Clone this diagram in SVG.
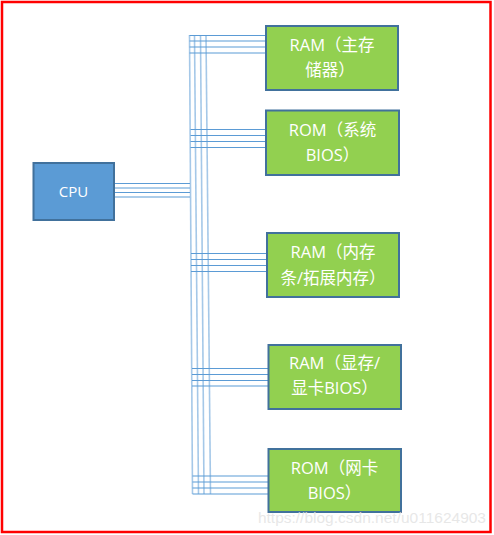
<svg xmlns="http://www.w3.org/2000/svg" width="494" height="535" viewBox="0 0 494 535">
<style>
.box{fill:#92d050;stroke:#41719c;stroke-width:2}
.cpu{fill:#5b9bd5;stroke:#41719c;stroke-width:2}
.t{fill:#ffffff;font-family:"Open Sans","Noto Sans CJK SC",sans-serif;font-size:16.5px;text-anchor:middle}
.c{fill:#ffffff;font-family:"Open Sans","Noto Sans CJK SC",sans-serif;font-size:15px;text-anchor:middle}
.h{stroke:#5b9bd5;stroke-width:1.2;fill:none}
.v{stroke:#5b9bd5;stroke-width:1.6;stroke-opacity:0.55;fill:none}
</style>
<rect x="2" y="2" width="488.5" height="530" fill="#ffffff" stroke="#ff0000" stroke-width="2.5"/>
<g id="connectors">
<line class="v" x1="189.5" y1="35" x2="192.5" y2="494"/>
<line class="v" x1="194.5" y1="35" x2="198.5" y2="494"/>
<line class="v" x1="200.5" y1="35" x2="204" y2="494"/>
<line class="v" x1="206" y1="35" x2="210.5" y2="494"/>
<line class="h" x1="189.5" y1="35.5" x2="266" y2="35.5"/>
<line class="h" x1="189.5" y1="41" x2="266" y2="41"/>
<line class="h" x1="189.5" y1="47" x2="266" y2="47"/>
<line class="h" x1="189.5" y1="53" x2="266" y2="53"/>
<line class="h" x1="190.5" y1="129.5" x2="266" y2="129.5"/>
<line class="h" x1="190.5" y1="135.5" x2="266" y2="135.5"/>
<line class="h" x1="190.5" y1="141.5" x2="266" y2="141.5"/>
<line class="h" x1="190.5" y1="147.5" x2="266" y2="147.5"/>
<line class="h" x1="114" y1="183.5" x2="190" y2="183.5"/>
<line class="h" x1="114" y1="188" x2="190" y2="188"/>
<line class="h" x1="114" y1="192.5" x2="190" y2="192.5"/>
<line class="h" x1="114" y1="197" x2="190" y2="197"/>
<line class="h" x1="191" y1="253.5" x2="267" y2="253.5"/>
<line class="h" x1="191" y1="259.5" x2="267" y2="259.5"/>
<line class="h" x1="191" y1="265.5" x2="267" y2="265.5"/>
<line class="h" x1="191" y1="271.5" x2="267" y2="271.5"/>
<line class="h" x1="192" y1="368.5" x2="268.5" y2="368.5"/>
<line class="h" x1="192" y1="374.5" x2="268.5" y2="374.5"/>
<line class="h" x1="192" y1="380.5" x2="268.5" y2="380.5"/>
<line class="h" x1="192" y1="386" x2="268.5" y2="386"/>
<line class="h" x1="192.5" y1="476" x2="268.5" y2="476"/>
<line class="h" x1="192.5" y1="482" x2="268.5" y2="482"/>
<line class="h" x1="192.5" y1="488" x2="268.5" y2="488"/>
<line class="h" x1="192.5" y1="494" x2="268.5" y2="494"/>
</g>
<g id="cpu">
<rect class="cpu" x="33.5" y="163" width="80.5" height="57"/>
<text class="c" x="73.5" y="197">CPU</text>
</g>
<g id="ram-main">
<rect class="box" x="266" y="26" width="132" height="64"/>
<text class="t" x="332" y="51">RAM（主存</text>
<text class="t" x="330" y="76">储器）</text>
</g>
<g id="rom-bios">
<rect class="box" x="266" y="110.5" width="133" height="64.5"/>
<text class="t" x="332.5" y="136">ROM（系统</text>
<text class="t" x="332.5" y="161">BIOS）</text>
</g>
<g id="ram-stick">
<rect class="box" x="267" y="233" width="132" height="64"/>
<text class="t" x="333" y="257.5">RAM（内存</text>
<text class="t" x="333" y="284">条/拓展内存）</text>
</g>
<g id="ram-video">
<rect class="box" x="268.5" y="345" width="132.5" height="64"/>
<text class="t" x="334.5" y="369">RAM（显存/</text>
<text class="t" x="334.5" y="394">显卡BIOS）</text>
</g>
<g id="rom-nic">
<rect class="box" x="268.5" y="449" width="132.5" height="63"/>
<text class="t" x="334.5" y="473.5">ROM（网卡</text>
<text class="t" x="334.5" y="498.5">BIOS）</text>
</g>
<text x="486" y="523" font-family="Liberation Sans, Arial, sans-serif" font-size="15.5" fill="#e3e3e3" fill-opacity="0.85" text-anchor="end">https://blog.csdn.net/u011624903</text>
</svg>
